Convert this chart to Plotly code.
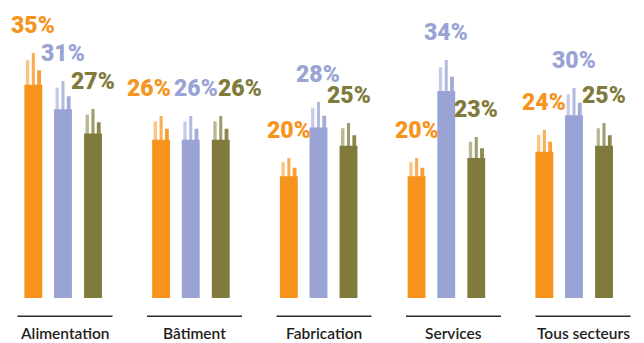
import plotly.graph_objects as go

categories = ["Alimentation", "Bâtiment", "Fabrication", "Services", "Tous secteurs"]
series_a = [35, 26, 20, 20, 24]   # orange
series_b = [31, 26, 28, 34, 30]   # lavender
series_c = [27, 26, 25, 23, 25]   # olive

colors = ["#F7941D", "#99A4D5", "#807B3C"]
offsets = [-0.232, 0.0, 0.235]
all_series = [series_a, series_b, series_c]

fig = go.Figure()
label_font = dict(family="Roboto, Liberation Sans, sans-serif", size=23, weight=900)

# brush-like bars: solid body + thin feathered spikes
for s, vals in enumerate(all_series):
    xs = [i + offsets[s] for i in range(len(categories))]
    body = [v * 0.87 for v in vals]
    fig.add_trace(go.Bar(x=xs, y=body, width=0.14, marker=dict(color=colors[s], line_width=0),
                         hoverinfo="skip", showlegend=False))
    spikes = [(-0.045, 0.026, 0.97, 0.55), (0.0, 0.024, 1.0, 0.75), (0.045, 0.03, 0.93, 0.9)]
    for dx, w, k, op in spikes:
        fig.add_trace(go.Bar(x=[x + dx for x in xs], y=[v * k for v in vals], width=w,
                             marker=dict(color=colors[s], line_width=0), opacity=op,
                             hoverinfo="skip", showlegend=False))

# value labels
spread = {(1, 0): -12, (1, 1): 5, (1, 2): 19}
for s, vals in enumerate(all_series):
    for i, v in enumerate(vals):
        fig.add_annotation(x=i + offsets[s], y=v, xref="x", yref="y", text=f"{v}%",
                           showarrow=False, yanchor="bottom", yshift=12,
                           xshift=spread.get((i, s), 0),
                           font=dict(color=colors[s], **label_font))

# category labels and underlines on a second x axis
for i, c in enumerate(categories):
    fig.add_shape(type="line", xref="x2", yref="paper", x0=i - 0.367, x1=i + 0.367,
                  y0=-0.061, y1=-0.061, line=dict(color="#2b2b2b", width=1.6))
    fig.add_annotation(x=i, y=-0.118, xref="x2", yref="paper", text=c, showarrow=False,
                       yanchor="middle",
                       font=dict(family="Lato, Open Sans, sans-serif", size=15.5, color="#231f20",
                                 weight=600))

fig.update_layout(
    width=644, height=343,
    margin=dict(l=0, r=0, t=0, b=45),
    paper_bgcolor="white", plot_bgcolor="white",
    barmode="overlay",
    xaxis=dict(range=[-0.493, 4.548], visible=False, fixedrange=True),
    xaxis2=dict(range=[-0.502, 4.471], overlaying="x", showgrid=False, zeroline=False,
                showticklabels=False, showline=False, ticks=""),
    yaxis=dict(range=[0, 42.57], visible=False, fixedrange=True),
)

fig.write_html("out.html", config={"displayModeBar": False},
               post_script="document.body.style.margin='0';document.body.style.overflow='hidden';")
